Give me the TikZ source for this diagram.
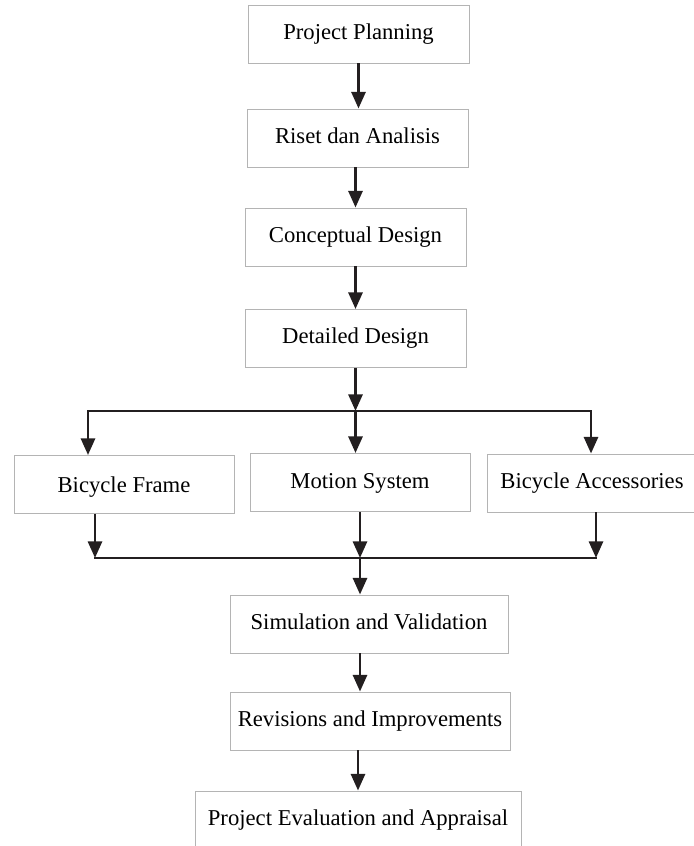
\documentclass[tikz,border=0pt]{standalone}
\usepackage{fontspec}
\setmainfont{Liberation Serif}
\usepackage{tikz}
\usetikzlibrary{arrows.meta, positioning}
\usepackage{xcolor}
\definecolor{flowink}{HTML}{231F20}
\definecolor{flowedge}{HTML}{B4B4B4}

\begin{document}
\begin{tikzpicture}[
        x=0.75pt, y=-0.75pt,
        font=\fontsize{17}{20}\selectfont,
        box/.style={draw=flowedge, line width=0.7pt, fill=white, inner sep=0pt,
                    minimum width=165.75pt, minimum height=43.5pt,
                    text height=11.5pt, text depth=3.5pt, align=center},
        arr/.style={-{Triangle[length=12.5pt, width=10.5pt]}, flowink, line width=2.2pt},
        bar/.style={flowink, line width=2.2pt, line cap=rect},
      ]
        \useasboundingbox (0,0) rectangle (693,846);
        \node[box] (plan)   at (358.5,34)  {Project Planning};
        \node[box] (riset)  at (357.5,138) {Riset dan Analisis};
        \node[box] (concept) at (355.5,237) {Conceptual Design};
        \node[box] (detail) at (355.5,338.5) {Detailed Design};
        \node[box, minimum width=165pt, text height=15pt] (frame)  at (124,484.5) {Bicycle Frame};
        \node[box, minimum width=165pt, text height=13pt] (motion) at (360,482.5) {Motion System};
        \node[box, minimum width=157.5pt] (access) at (592,483) {Bicycle Accessories};
        \node[box, minimum width=208.5pt] (simul)  at (369,624)  {Simulation and Validation};
        \node[box, minimum width=210pt]   (revise) at (370,721)  {Revisions and Improvements};
        \node[box, minimum width=244.5pt] (evalu)  at (358,820)  {Project Evaluation and Appraisal};
        \coordinate (topL) at (88,411);
        \coordinate (topM) at (355.5,411);
        \coordinate (topR) at (591,411);
        \coordinate (botL) at (95,558);
        \coordinate (botM) at (360,558);
        \coordinate (botR) at (596,558);
        \draw[arr] (plan.south)    -- (plan.south |- riset.north);
        \draw[arr] (riset.south -| concept.north) -- (concept.north);
        \draw[arr] (concept.south) -- (detail.north);
        \draw[arr] (detail.south)  -- (topM);
        \draw[bar] (topL) -- (topR);
        \draw[arr] (topL) -- (topL |- frame.north);
        \draw[arr] (topM) -- (topM |- motion.north);
        \draw[arr] (topR) -- (topR |- access.north);
        \draw[arr] (frame.south -| botL)  -- (botL);
        \draw[arr] (motion.south)         -- (botM);
        \draw[arr] (access.south -| botR) -- (botR);
        \draw[bar] (botL) -- (botR);
        \draw[arr] (botM) -- (botM |- simul.north);
        \draw[arr] (simul.south -| botM) -- (botM |- revise.north);
        \draw[arr] (revise.south -| evalu.north) -- (evalu.north);
      \end{tikzpicture}
\end{document}
